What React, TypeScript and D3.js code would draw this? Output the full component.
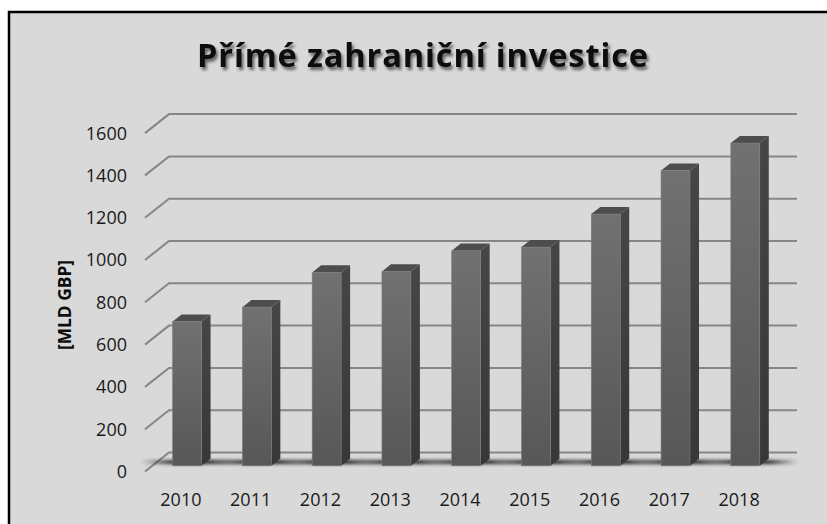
import React from "react";
import * as d3 from "d3";

const years = ["2010", "2011", "2012", "2013", "2014", "2015", "2016", "2017", "2018"];
const values = [682, 750, 914, 919, 1017, 1034, 1190, 1396, 1526];
const yTicks = [0, 200, 400, 600, 800, 1000, 1200, 1400, 1600];
const title = "Přímé zahraniční investice";
const yTitle = "[MLD GBP]";

const W = 827;
const H = 524;
const FONT = "'Open Sans', Lato, 'DejaVu Sans', sans-serif";

export default function App() {
  // front plane of the 3D box
  const x = d3.scaleBand<string>().domain(years).range([145, 773]).padding(0);
  const y = d3.scaleLinear().domain([0, 1600]).range([471.5, 133.1]);
  const DX = 24; // full depth offset
  const DY = -19;
  const t0 = 0.3; // bar front depth fraction
  const t1 = 0.675; // bar back depth fraction
  const bw = x.bandwidth();
  const barW = bw * 0.415;

  return (
    <svg
      width={W}
      height={H}
      style={{ position: "absolute", left: 0, top: 0, background: "#ffffff" }}
      xmlns="http://www.w3.org/2000/svg"
    >
      <defs>
        <filter id="tshadow" x="-10%" y="-30%" width="120%" height="160%">
          <feDropShadow dx="2" dy="3" stdDeviation="1.8" floodColor="#000" floodOpacity="0.55" />
        </filter>
        <filter id="blur" x="-20%" y="-200%" width="140%" height="500%">
          <feGaussianBlur stdDeviation="1.6" />
        </filter>
        <linearGradient id="front" x1="0" y1="0" x2="0" y2="1">
          <stop offset="0" stopColor="#717171" />
          <stop offset="1" stopColor="#575757" />
        </linearGradient>
        <linearGradient id="side" x1="0" y1="0" x2="0" y2="1">
          <stop offset="0" stopColor="#464646" />
          <stop offset="1" stopColor="#373737" />
        </linearGradient>
        <linearGradient id="shadowGrad" x1="0" y1="0" x2="1" y2="0">
          <stop offset="0" stopColor="#2a2a2a" stopOpacity="0" />
          <stop offset="0.35" stopColor="#2a2a2a" stopOpacity="0.95" />
          <stop offset="0.7" stopColor="#2a2a2a" stopOpacity="0.9" />
          <stop offset="1" stopColor="#2a2a2a" stopOpacity="0" />
        </linearGradient>
      </defs>

      {/* chart area background & border */}
      <rect x={9} y={12} width={W + 20} height={H + 20} fill="#d9d9d9" stroke="#000" strokeWidth={2.5} />

      {/* title */}
      <text
        x={422.5}
        y={67}
        textAnchor="middle"
        fontFamily={FONT}
        fontWeight={700}
        fontSize={32.5}
        textLength={451}
        lengthAdjust="spacing"
        fill="#0d0d0d"
        filter="url(#tshadow)"
      >
        {title}
      </text>

      {/* gridlines: side-wall diagonal + back wall */}
      {yTicks.map((t) => {
        const yf = y(t);
        const yb = yf + DY;
        return (
          <path
            key={t}
            d={`M${145},${yf} L${145 + DX},${yb} L${773 + DX},${yb}`}
            fill="none"
            stroke="#868686"
            strokeWidth={2}
          />
        );
      })}

      {/* y tick labels */}
      {yTicks.map((t) => (
        <text
          key={t}
          x={127}
          y={y(t)}
          dy="0.36em"
          textAnchor="end"
          fontFamily={FONT}
          fontSize={18}
          fill="#1a1a1a"
        >
          {t}
        </text>
      ))}

      {/* y axis title */}
      <text
        transform={`translate(71,305) rotate(-90)`}
        textAnchor="middle"
        fontFamily={FONT}
        fontWeight={700}
        fontSize={17}
        textLength={90}
        lengthAdjust="spacingAndGlyphs"
        fill="#0d0d0d"
      >
        {yTitle}
      </text>

      {/* floor shadows */}
      {years.map((yr) => {
        const bx = (x(yr) as number) + (bw - barW) / 2 + DX * t0;
        const baseY = y(0) + DY * t0;
        return (
          <rect
            key={"s" + yr}
            x={bx - 32}
            y={baseY - 6}
            width={barW + 70}
            height={4.5}
            fill="url(#shadowGrad)"
            filter="url(#blur)"
          />
        );
      })}

      {/* bars */}
      {years.map((yr, i) => {
        const bx = (x(yr) as number) + (bw - barW) / 2 + DX * t0;
        const by0 = y(0) + DY * t0;
        const byt = y(values[i]) + DY * t0;
        const ddx = DX * (t1 - t0);
        const ddy = DY * (t1 - t0);
        return (
          <g key={yr}>
            <path
              d={`M${bx + barW},${byt} L${bx + barW + ddx},${byt + ddy} L${bx + barW + ddx},${by0 + ddy} L${bx + barW},${by0} Z`}
              fill="url(#side)"
            />
            <path
              d={`M${bx},${byt} L${bx + ddx},${byt + ddy} L${bx + barW + ddx},${byt + ddy} L${bx + barW},${byt} Z`}
              fill="#4d4d4d"
            />
            <rect x={bx} y={byt} width={barW} height={by0 - byt} fill="url(#front)" stroke="#7c7c7c" strokeWidth={0.6} />
          </g>
        );
      })}

      {/* x labels */}
      {years.map((yr) => (
        <text
          key={"l" + yr}
          x={(x(yr) as number) + bw / 2 + 1}
          y={506}
          textAnchor="middle"
          fontFamily={FONT}
          fontSize={18}
          fill="#1a1a1a"
        >
          {yr}
        </text>
      ))}
    </svg>
  );
}
